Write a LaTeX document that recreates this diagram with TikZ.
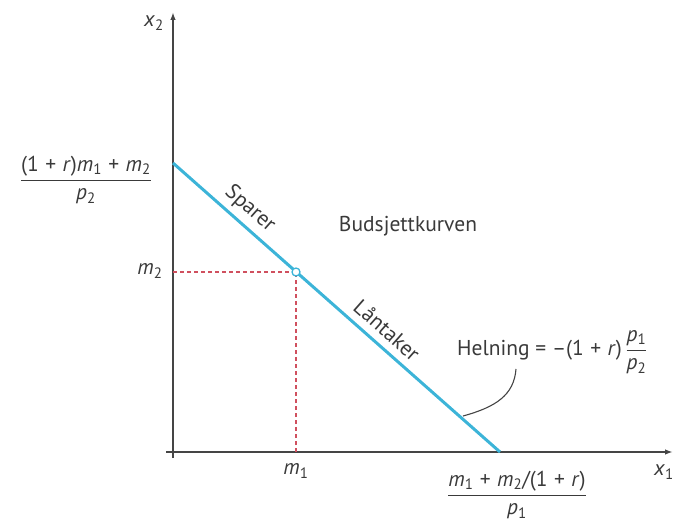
\documentclass[tikz,border=0pt]{standalone}
\usepackage{fontspec}
\setmainfont{PT Sans}
\usetikzlibrary{arrows.meta}
\definecolor{axisgray}{HTML}{454545}
\definecolor{budget}{HTML}{3CB4D8}
\definecolor{dashred}{HTML}{D0505E}
\definecolor{txt}{HTML}{3A3A3A}
\newcommand{\vv}[2]{\textit{#1}\textsubscript{#2}}
\newcommand{\pl}{\hspace{0.3em}+\hspace{0.3em}}
\begin{document}
\begin{tikzpicture}[x=1pt,y=-1pt,
  lbl/.style={text=txt,font=\fontsize{21.5}{25}\selectfont,inner sep=1pt},
  axisline/.style={draw=axisgray,line width=1.6pt,-{Latex[length=8pt,width=5.5pt]}},
  budgetline/.style={draw=budget,line width=3pt},
  guide/.style={draw=dashred,line width=1.1pt,dash pattern=on 4pt off 3pt},
  pointer/.style={draw=axisgray,line width=1.1pt}]
\useasboundingbox (0,0) rectangle (675,521);
\coordinate (O) at (173,452);
\coordinate (Ytop) at (173,12);
\coordinate (Xend) at (673,452);
\coordinate (Xleft) at (166,452);
\coordinate (Ybot) at (173,458);
\coordinate (A) at (173,163);
\coordinate (B) at (500,452);
\coordinate (P) at (296,272);
\coordinate (PY) at (173,272);
\coordinate (PX) at (296,452);
\coordinate (ptr) at (463,416);
\coordinate (ptrstart) at (516,369);
% axes
\draw[axisline] (Ybot) -- (Ytop);
\draw[axisline] (Xleft) -- (Xend);
% dashed guides
\draw[guide] (PY) -- (P);
\draw[guide] (PX) -- (P);
% budget line
\draw[budgetline] (A) -- (B);
\node[circle,draw=budget,fill=white,line width=1.3pt,minimum size=8pt,inner sep=0pt] (pt) at (P) {};
% labels
\node[lbl] (x2) at (154,23) {\vv{x}{2}};
\node[lbl] (x1) at (664,472) {\vv{x}{1}};
\node[lbl] (m2) at (150,271) {\vv{m}{2}};
\node[lbl] (m1) at (296,471) {\vv{m}{1}};
\node[lbl] (ytick) at (86,180) {$\displaystyle\frac{\hbox{(1\pl\textit{r})\vv{m}{1}\pl\vv{m}{2}}}{\hbox{\vv{p}{2}}}$};
\node[lbl] (xtick) at (517,495) {$\displaystyle\frac{\hbox{\vv{m}{1}\pl\vv{m}{2}/(1\pl\textit{r})}}{\hbox{\vv{p}{1}}}$};
\node[lbl,rotate=-41.5] (sparer) at (250,209) {Sparer};
\node[lbl,rotate=-41.5] (lan) at (387,330) {Låntaker};
\node[lbl] (bud) at (408,226) {Budsjettkurven};
\node[lbl,anchor=west] (hel) at (456,352) {Helning = –(1\pl\textit{r})\,$\displaystyle\frac{\hbox{\vv{p}{1}}}{\hbox{\vv{p}{2}}}$};
\draw[pointer] (ptrstart) .. controls (514,395) and (496,407) .. (ptr);
\end{tikzpicture}
\end{document}
